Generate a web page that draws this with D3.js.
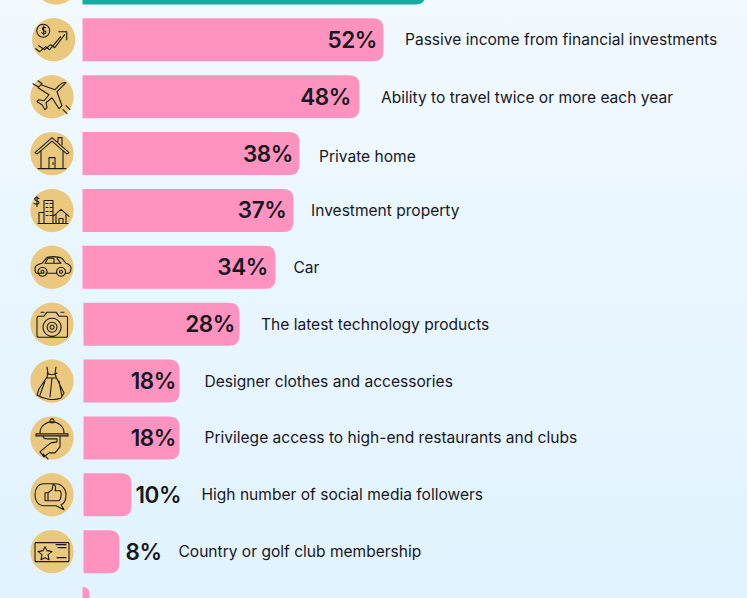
<!DOCTYPE html>
<html><head><meta charset="utf-8">
<script src="https://cdn.jsdelivr.net/npm/d3@7/dist/d3.min.js"></script>
<style>
html,body{margin:0;padding:0;background:#e4f4ff;overflow:hidden}
svg{display:block}
text{font-family:Inter,Lato,sans-serif;fill:#17171f}
</style></head><body>
<svg id="c" width="747" height="598"></svg>
<script>
const categories=["(top)","Passive income from financial investments","Ability to travel twice or more each year","Private home","Investment property","Car","The latest technology products","Designer clothes and accessories","Privilege access to high-end restaurants and clubs","High number of social media followers","Country or golf club membership","(last)"];
const values=[59,52,48,38,37,34,28,18,18,10,8,3];
const iconNames=["none","invest","plane","house","property","car","camera","dress","cloche","like","card","blank"];

const W=747,H=598,barLeft=82.5,barH=43;
/* layout-only tweaks, per row */
const labelGap=[0,21.5,21.5,19.5,17.5,18,21.5,25,25,70,59];
const labelDy=[0,0,1,3,0,0,0,0,0,0,0];
const valueGap=[0,-6.5,-8.5,-6.5,-7,-7.5,-4.5,-3.5,-3.5,4,6];
const svg=d3.select("#c");
const defs=svg.append("defs");
const g=defs.append("linearGradient").attr("id","bg").attr("x1",0).attr("x2",0).attr("y1",0).attr("y2",1);
g.append("stop").attr("offset",0).attr("stop-color","#f2faff");
g.append("stop").attr("offset",.45).attr("stop-color","#e9f6ff");
g.append("stop").attr("offset",1).attr("stop-color","#e2f3ff");
svg.append("rect").attr("width",W).attr("height",H).attr("fill","url(#bg)");

const x=d3.scaleLinear().domain([0,60]).range([71.5,431.5]);
const y=d3.scaleLinear().domain([0,11]).range([-38.5,587]);
const rows=categories.map((c,i)=>({c,v:values[i],i,icon:iconNames[i]}));

function barPath(d){
  const x0=barLeft+(d.i>=6&&d.i<=10?1:0),x1=x(d.v),t=y(d.i),b=t+barH,r=Math.min(10,x1-x0);
  return `M${x0},${t}H${x1-r}Q${x1},${t} ${x1},${t+r}V${b-r}Q${x1},${b} ${x1-r},${b}H${x0}Z`;
}
svg.selectAll(".bar").data(rows).join("path").attr("class","bar")
  .attr("d",barPath).attr("fill",d=>d.i===0?"#14aca4":"#ff93bf");

const labelled=rows.filter(d=>d.i>0&&d.i<11);
const inside=d=>d.v>=18;
svg.selectAll(".val").data(labelled).join("text").attr("class","val")
  .attr("x",d=>x(d.v)+valueGap[d.i])
  .attr("y",d=>y(d.i)+barH/2+8)
  .attr("text-anchor",d=>inside(d)?"end":"start")
  .attr("font-size",22.5).attr("font-weight",600).attr("letter-spacing",-0.4)
  .text(d=>d.v+"%");
svg.selectAll(".lab").data(labelled).join("text").attr("class","lab")
  .attr("x",d=>x(d.v)+labelGap[d.i])
  .attr("y",d=>y(d.i)+barH/2+5.5+labelDy[d.i])
  .attr("font-size",15.55).attr("font-weight",400)
  .text(d=>d.c);

/* circles + hand-drawn pictograms */
const ink="#1d1a16";
const circ=[[56,-17],[53.7,39.7]];
const icons={
 none:"",blank:"",
 invest:"M-15,6 l6,4 l6,-5 l4,3 l10,-13 M5,-8 h8 v8 M-4,-9 a6.5,6.5 0 1 1 -13,0 a6.5,6.5 0 1 1 13,0 M-8,-12 c-2,-1 -4,0 -3,2 c1,2 4,1 3,3 c-1,2 -3,1 -4,0 M-10,-14 v9 M-18,9 l4,3 l6,-5 l4,3 l11,-13",
 plane:"M14,-14 c-3,-1 -5,1 -7,3 l-4,4 l-14,-5 l-3,3 l11,7 l-5,6 l-5,-1 l-2,2 l5,3 l3,5 l2,-2 l-1,-5 l6,-5 l7,11 l3,-3 l-5,-14 l4,-4 c2,-2 4,-4 5,-5 Z M-14,-10 l-5,-3 M-10,-13 l-4,-3 M11,13 l4,4 M14,9 l4,4",
 house:"M-17,-1 l17,-15 l17,15 l-2,1.5 l-15,-13 l-15,13 Z M-11,-2 v17 h22 v-17 M-14,15 h28 M-3,15 v-11 h6 v11 M1,9 v2 M6,-12 v-4 h4 v7",
 property:"M-8,13 v-23 h9 v23 M-13,13 v-11 h5 M1,2 l0,-5 M-6,-7 h2 M-2,-7 h2 M-6,-3 h2 M-2,-3 h2 M-6,1 h2 M-2,1 h2 M-6,5 h2 M-2,5 h2 M-14,13 h30 M1,6 l8,-7 l8,7 M4,4 v9 M14,4 v9 M7,13 v-5 h4 v5 M-13,-12 c-3,-2 -5,0 -4,1 c1,2 4,1 4,3 c0,2 -3,2 -5,1 M-15,-14 v10",
 car:"M-8,6 h-7 c-2,0 -2,-3 -2,-5 c0,-3 3,-4 7,-5 l5,-6 c5,-1 11,-1 15,1 l4,5 c3,1 5,2 5,5 c0,3 -1,5 -3,5 h-3 M4,6 h-3 M-7,-4 l3,-5 h6 v5 Z M5,-9 l4,5 h-7 M-9.5,0 a4.5,4.5 0 1 0 .1,0 Z M9,0 a4.5,4.5 0 1 0 .1,0 Z M-9.5,3 a1.5,1.5 0 1 0 .1,0 Z M9,3 a1.5,1.5 0 1 0 .1,0 Z M-6,6 h9",
 camera:"M-14,-8 h6 l3,-4 h9 l3,4 h7 a1.5,1.5 0 0 1 1.5,1.5 v18 a1.5,1.5 0 0 1 -1.5,1.5 h-27 a2,2 0 0 1 -2,-2 v-17 a2,2 0 0 1 2,-2 Z M0,-6 a9,9 0 1 0 .1,0 Z M0,-2 a5,5 0 1 0 .1,0 Z M0,1 a2,2 0 1 0 .1,0 Z M-11,-12 h3 M9,-12 h3",
 dress:"M-5,-14 l1,6 l-1,4 l-8,12 l-2,6 c6,4 17,6 24,3 l3,-5 l-8,-16 l-1,-4 l1,-6 M-5,-8 c3,2 7,2 10,0 M-5,-3 h9 M-7,0 l-5,14 M7,0 l3,16 M0,-3 l-2,19",
 cloche:"M-12,-5 a12,11 0 0 1 24,0 M-16,-4 h32 v2 h-32 Z M0,-19 a2,2 0 1 0 .1,0 M-9,-2 c0,3 3,3 5,3 h9 v3 l-6,1 l-4,3 l-7,6 l4,5 l5,-4 h6 l5,-6 v-10 M-9,16 l5,5",
 like:"M-8,-11 h11 c7,0 11,5 11,11 c0,5 -2,9 -5,10 l3,5 l-8,-4 h-12 c-6,0 -9,-5 -9,-11 c0,-6 3,-11 9,-11 Z M-7,-2 h3 v8 h-3 Z M-4,-2 l4,-3 l1,-5 c3,0 3,3 2,6 h5 c2,1 1,9 -1,10 h-11",
 card:"M-16,-9 h32 a1,1 0 0 1 1,1 v17 a1,1 0 0 1 -1,1 h-32 a1,1 0 0 1 -1,-1 v-17 a1,1 0 0 1 1,-1 Z M-7,-5 l2,4 l5,1 l-4,3 l1,5 l-4,-2 l-4,2 l1,-5 l-4,-3 l5,-1 Z M4,-7 h10 M6,-4 h8 M5,6 h9"
};
const iconG=svg.selectAll(".ic").data(rows.slice(0,11)).join("g").attr("class","ic")
  .attr("transform",d=>{const c=circ[d.i];return `translate(${c?c[0]:52},${c?c[1]:y(d.i)+barH/2})`;});
iconG.append("circle").attr("r",21.7).attr("fill","#eac97f");
iconG.append("path").attr("d",d=>icons[d.icon]).attr("fill","none").attr("stroke",ink).attr("stroke-width",1.1).attr("stroke-linejoin","round").attr("stroke-linecap","round");
</script></body></html>
